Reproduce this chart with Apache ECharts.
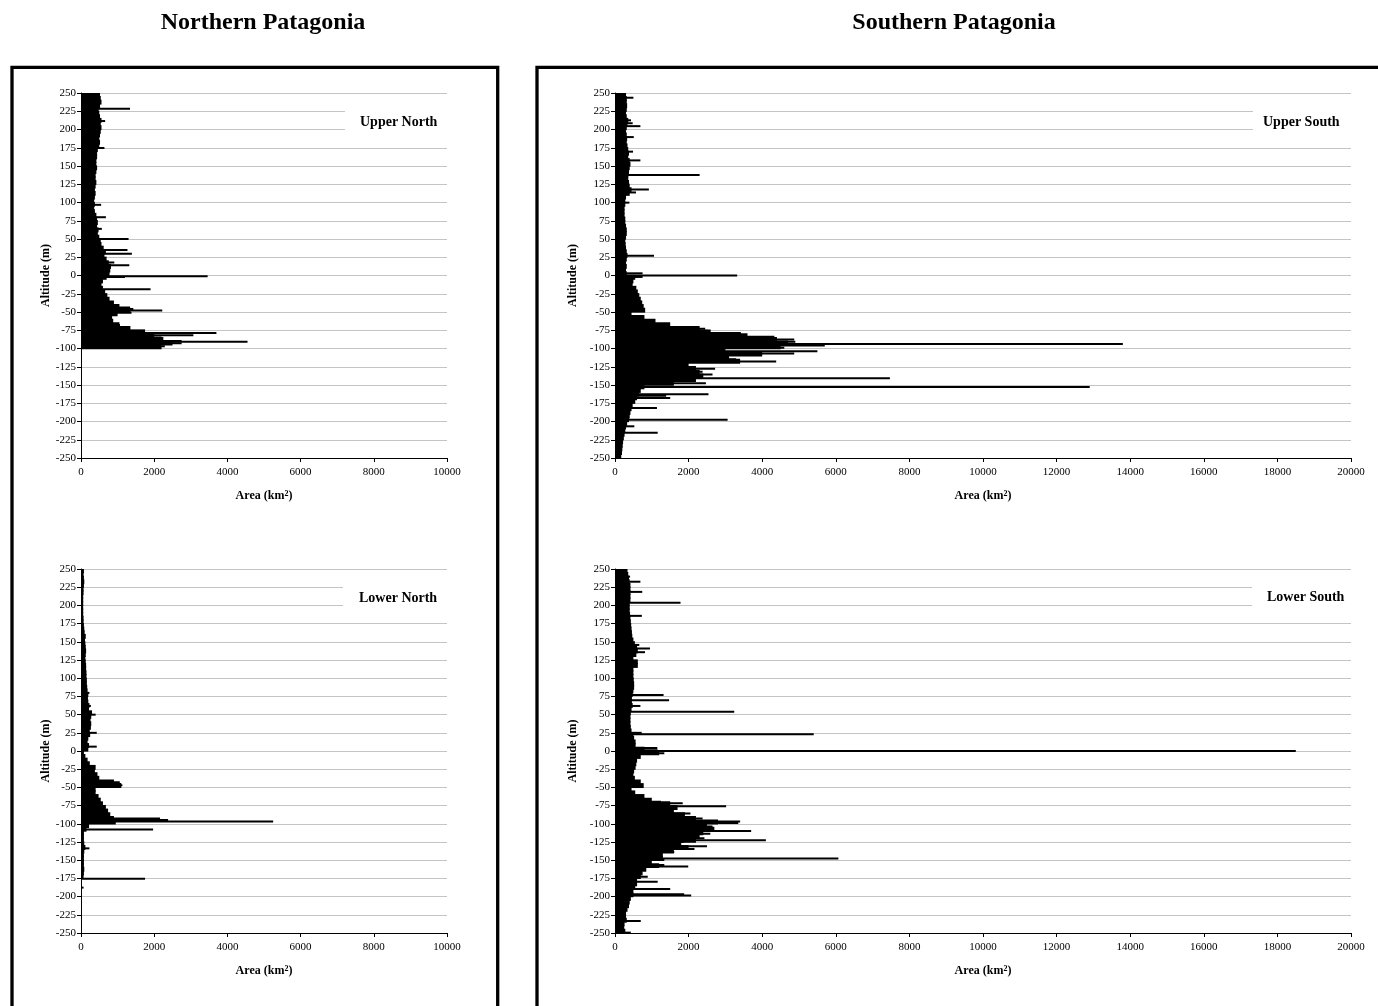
<!DOCTYPE html>
<html>
<head>
<meta charset="utf-8">
<title>Patagonia hypsometry</title>
<script src="https://cdn.jsdelivr.net/npm/echarts@6.0.0/dist/echarts.min.js"></script>
<style>
  html, body { margin: 0; padding: 0; background: #ffffff; }
  #main { width: 1378px; height: 1006px; }
</style>
</head>
<body>
<div id="main"></div>
<script>
// Altitude tick labels (m) and x-axis limits
const altitudeTicks = [250, 225, 200, 175, 150, 125, 100, 75, 50, 25, 0, -25, -50, -75, -100, -125, -150, -175, -200, -225, -250];
const northAreaTicks = [0, 2000, 4000, 6000, 8000, 10000];
const southAreaTicks = [0, 2000, 4000, 6000, 8000, 10000, 12000, 14000, 16000, 18000, 20000];

// 5 m altitude bins, listed from the top (250-245 m) down to (-245 to -250 m)
const binTops = [];
for (let a = 250; a > -250; a -= 5) binTops.push(String(a));
// 1 m altitude levels, from 250 down to -250
const levels = [];
for (let a = 250; a >= -250; a--) levels.push(String(a));

// Area (km2) per 5 m bin
const upperNorthBody = [
  520, 540, 560, 520, 480, 500, 520, 560, 540, 560,
  540, 520, 500, 520, 500, 460, 440, 440, 420, 420,
  440, 420, 400, 400, 420, 400, 380, 400, 380, 360,
  380, 360, 380, 420, 440, 460, 440, 480, 460, 500,
  540, 560, 620, 680, 640, 700, 760, 820, 800, 780,
  700, 600, 560, 600, 660, 720, 780, 900, 1050, 1350,
  1000, 850, 880, 1050, 1350, 1750, 2000, 2250, 2500, 2200,
  0, 0, 0, 0, 0, 0, 0, 0, 0, 0,
  0, 0, 0, 0, 0, 0, 0, 0, 0, 0,
  0, 0, 0, 0, 0, 0, 0, 0, 0, 0
];
const upperSouthBody = [
  300, 320, 320, 330, 320, 300, 320, 360, 340, 320,
  300, 320, 330, 320, 340, 360, 380, 360, 400, 420,
  400, 380, 360, 360, 380, 400, 450, 400, 300, 280,
  280, 260, 260, 260, 280, 280, 300, 320, 320, 300,
  280, 290, 300, 320, 340, 320, 300, 320, 300, 320,
  550, 500, 480, 580, 620, 660, 700, 740, 780, 820,
  450, 800, 1100, 1500, 2300, 2600, 3600, 4400, 4700, 4500,
  3000, 4000, 3100, 3400, 2000, 2200, 2300, 2400, 2200, 1600,
  800, 700, 650, 600, 550, 480, 450, 420, 400, 380,
  330, 300, 280, 260, 240, 220, 210, 200, 190, 170
];
const lowerNorthBody = [
  80, 70, 80, 90, 80, 70, 70, 60, 60, 60,
  60, 60, 60, 70, 70, 80, 90, 100, 130, 110,
  120, 130, 140, 130, 120, 130, 140, 140, 150, 150,
  160, 160, 170, 180, 200, 190, 200, 230, 220, 300,
  280, 260, 280, 270, 240, 250, 200, 180, 220, 200,
  80, 120, 180, 240, 400, 380, 450, 500, 900, 1100,
  400, 400, 480, 540, 600, 680, 740, 800, 900, 950,
  220, 150, 80, 80, 80, 90, 120, 90, 80, 80,
  80, 80, 90, 80, 70, 0, 0, 0, 0, 0,
  0, 0, 0, 0, 0, 0, 0, 0, 0, 0
];
const lowerSouthBody = [
  340, 360, 380, 400, 420, 420, 420, 420, 420, 400,
  400, 400, 410, 420, 430, 440, 450, 460, 470, 500,
  540, 600, 620, 580, 500, 620, 620, 500, 500, 500,
  510, 520, 520, 500, 480, 460, 460, 480, 450, 430,
  420, 420, 420, 430, 450, 500, 520, 560, 560, 800,
  1200, 700, 600, 580, 560, 520, 500, 540, 700, 780,
  450, 550, 800, 1000, 1500, 1700, 1600, 1900, 2200, 2800,
  2500, 2700, 2400, 2300, 2200, 1800, 2000, 1600, 1300, 1300,
  1000, 1200, 850, 750, 700, 600, 600, 550, 500, 500,
  430, 400, 380, 340, 300, 300, 320, 260, 250, 280
];

// Single-metre peaks: [altitude (m), area (km2)]
const upperNorthPeaks = [
  [229, 1340], [212, 660], [175, 640], [97, 550], [80, 680], [64, 570],
  [50, 1300], [35, 1270], [30, 1390], [18, 910], [14, 1320], [-1, 3460],
  [-2, 1200], [-19, 1900], [-44, 1340], [-46, 1430], [-48, 2220], [-51, 1380],
  [-68, 1065], [-76, 1750], [-79, 3700], [-82, 3070], [-85, 2200],
  [-90, 2750], [-91, 4550], [-93, 2750], [-97, 2290], [-99, 1420]
];
const upperSouthPeaks = [
  [244, 500], [213, 435], [209, 480], [205, 690], [190, 510], [170, 490],
  [158, 690], [138, 2300], [118, 920], [114, 570], [100, 390], [27, 1060],
  [3, 750], [0, 3320], [-2, 750], [-73, 2450], [-76, 2520], [-79, 3420],
  [-84, 4330], [-88, 4870], [-91, 4900], [-94, 13800], [-96, 5700],
  [-99, 4600], [-104, 5500], [-107, 4870], [-115, 3290], [-118, 4380],
  [-128, 2720], [-132, 2380], [-136, 2650], [-141, 7470], [-148, 2470],
  [-153, 12900], [-163, 2540], [-165, 1390], [-168, 1500], [-182, 1140],
  [-198, 3060], [-207, 525], [-216, 1160]
];
const lowerNorthPeaks = [
  [80, 230], [62, 270], [50, 400], [25, 430], [6, 430], [-43, 1060],
  [-47, 1130], [-93, 2160], [-95, 2380], [-97, 5250], [-108, 1970],
  [-134, 230], [-176, 1750], [-188, 70]
];
const lowerSouthPeaks = [
  [240, 410], [233, 690], [219, 740], [204, 1780], [186, 730], [146, 660],
  [141, 950], [136, 815], [77, 1320], [70, 1470], [62, 690], [54, 3240],
  [25, 725], [23, 5400], [4, 1150], [1, 1160], [0, 18500], [-3, 1340],
  [-70, 1250], [-72, 1840], [-76, 3020], [-81, 1390], [-86, 2050], [-88, 1800],
  [-93, 2380], [-97, 3400], [-99, 3350], [-104, 2650], [-106, 2250], [-110, 3700],
  [-112, 2020], [-114, 2590], [-118, 2160], [-120, 2430], [-123, 4100],
  [-125, 1880], [-131, 2500], [-135, 2160], [-139, 1610], [-142, 1250],
  [-148, 6070], [-150, 1340], [-157, 1340], [-159, 1990], [-173, 890], [-180, 1160],
  [-190, 1500], [-197, 1880], [-199, 2070], [-234, 700], [-250, 430]
];

const FONT = '"Liberation Serif", "Times New Roman", Times, serif';
const plain = (v) => String(v);

const panels = [
  { title: 'Upper North', body: upperNorthBody, peaks: upperNorthPeaks, ticks: northAreaTicks,
    left: 81, top: 93, width: 366, height: 365, boxX: 345, boxY: 101, labelX: 360, labelY: 122 },
  { title: 'Upper South', body: upperSouthBody, peaks: upperSouthPeaks, ticks: southAreaTicks,
    left: 615, top: 93, width: 736, height: 365, boxX: 1253, boxY: 101, labelX: 1263, labelY: 122 },
  { title: 'Lower North', body: lowerNorthBody, peaks: lowerNorthPeaks, ticks: northAreaTicks,
    left: 81, top: 569, width: 366, height: 364, boxX: 343, boxY: 577, labelX: 359, labelY: 598 },
  { title: 'Lower South', body: lowerSouthBody, peaks: lowerSouthPeaks, ticks: southAreaTicks,
    left: 615, top: 569, width: 736, height: 364, boxX: 1252, boxY: 576, labelX: 1267, labelY: 597 }
];

const grids = [], xAxes = [], yAxes = [], series = [], graphics = [];

panels.forEach((p, i) => {
  grids.push({ left: p.left, top: p.top, width: p.width, height: p.height, containLabel: false });

  const tickStep = p.ticks[1] - p.ticks[0];
  xAxes.push({
    gridIndex: i, type: 'value',
    min: p.ticks[0], max: p.ticks[p.ticks.length - 1], interval: tickStep,
    axisLine: { show: true, onZero: false, lineStyle: { color: '#000', width: 1 } },
    axisTick: { show: true, length: 4, lineStyle: { color: '#000' } },
    axisLabel: { color: '#000', fontFamily: FONT, fontSize: 11, margin: 9, formatter: plain },
    splitLine: { show: false },
    name: 'Area (km{s|2})', nameLocation: 'middle', nameGap: 32,
    nameTextStyle: {
      fontFamily: FONT, fontWeight: 'bold', fontSize: 12, color: '#000',
      rich: { s: { fontFamily: FONT, fontWeight: 'bold', fontSize: 8, verticalAlign: 'top', padding: [0, 0, 4, 0], color: '#000' } }
    }
  });

  // visible altitude scale
  yAxes.push({
    gridIndex: i, type: 'value', position: 'left',
    min: altitudeTicks[altitudeTicks.length - 1], max: altitudeTicks[0],
    interval: altitudeTicks[0] - altitudeTicks[1],
    axisLine: { show: true, onZero: false, lineStyle: { color: '#000', width: 1 } },
    axisTick: { show: true, length: 4, lineStyle: { color: '#000' } },
    axisLabel: { color: '#000', fontFamily: FONT, fontSize: 11, margin: 5, formatter: plain },
    splitLine: { show: true, lineStyle: { color: '#c4c4c4', width: 1 } },
    name: 'Altitude (m)', nameLocation: 'middle', nameGap: 28, nameRotate: 90,
    nameTextStyle: { fontFamily: FONT, fontWeight: 'bold', fontSize: 12, color: '#000' }
  });
  // 5 m bins
  yAxes.push({ gridIndex: i, type: 'category', position: 'left', data: binTops, inverse: true, show: false });
  // 1 m levels
  yAxes.push({ gridIndex: i, type: 'category', position: 'right', data: levels, inverse: true, show: false });

  series.push({
    type: 'bar', xAxisIndex: i, yAxisIndex: 3 * i + 1,
    data: p.body, barWidth: '135%',
    itemStyle: { color: '#000' },
    silent: true
  });
  series.push({
    type: 'bar', xAxisIndex: i, yAxisIndex: 3 * i + 2,
    data: p.peaks.map(([alt, v]) => [v, String(alt)]),
    barWidth: 2,
    itemStyle: { color: '#000' },
    silent: true
  });

  graphics.push({
    type: 'rect', z: 100,
    shape: { x: p.boxX, y: p.boxY, width: 115, height: 40 },
    style: { fill: '#ffffff', stroke: 'none' }
  });
  graphics.push({
    type: 'text', z: 101, x: p.labelX, y: p.labelY,
    style: { text: p.title, font: 'bold 14px ' + FONT, fill: '#000',
             align: 'left', verticalAlign: 'middle', textAlign: 'left', textVerticalAlign: 'middle' }
  });
});

// region frames and headings
graphics.push({
  type: 'rect', z: 100,
  shape: { x: 12, y: 67.3, width: 485.7, height: 1000 },
  style: { fill: 'none', stroke: '#000', lineWidth: 3.3 }
});
graphics.push({
  type: 'rect', z: 100,
  shape: { x: 537, y: 67.3, width: 900, height: 1000 },
  style: { fill: 'none', stroke: '#000', lineWidth: 3.3 }
});
graphics.push({
  type: 'text', z: 101, x: 263, y: 23,
  style: { text: 'Northern Patagonia', font: 'bold 24px ' + FONT, fill: '#000',
           align: 'center', verticalAlign: 'middle', textAlign: 'center', textVerticalAlign: 'middle' }
});
graphics.push({
  type: 'text', z: 101, x: 954, y: 23,
  style: { text: 'Southern Patagonia', font: 'bold 24px ' + FONT, fill: '#000',
           align: 'center', verticalAlign: 'middle', textAlign: 'center', textVerticalAlign: 'middle' }
});

const chart = echarts.init(document.getElementById('main'), null, { renderer: 'canvas' });
chart.setOption({
  animation: false,
  backgroundColor: '#ffffff',
  grid: grids,
  xAxis: xAxes,
  yAxis: yAxes,
  series: series,
  graphic: { elements: graphics }
});
</script>
</body>
</html>
